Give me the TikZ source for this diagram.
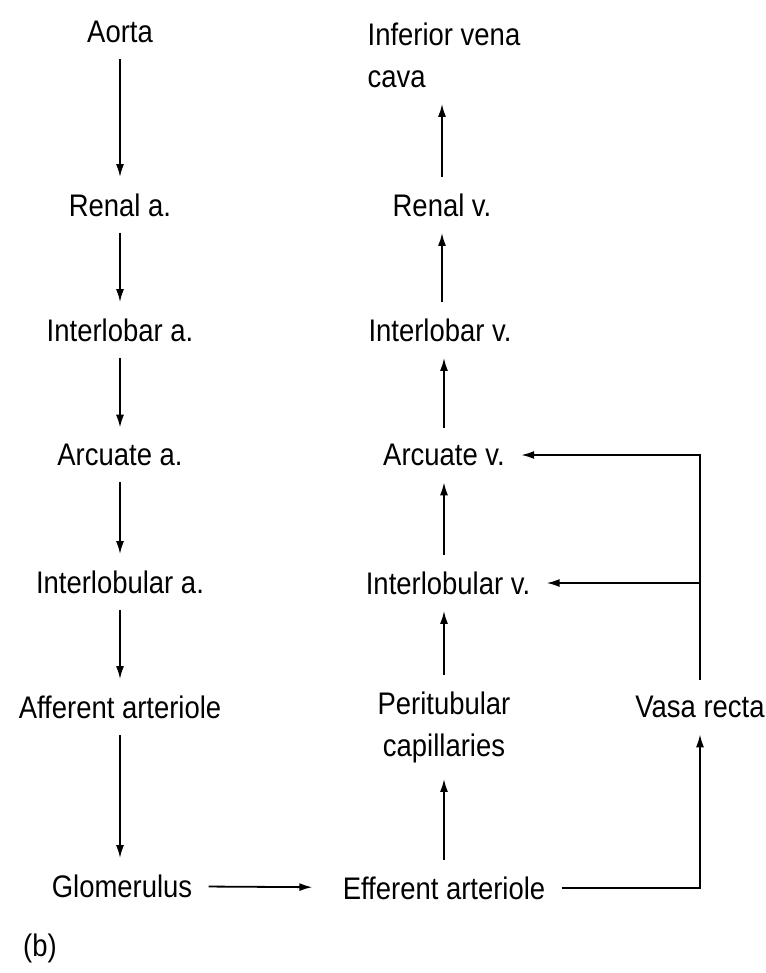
\documentclass[tikz,border=0pt]{standalone}
\usepackage{fontspec}
\setmainfont{Liberation Sans}[FakeStretch=0.88]
\usepackage{tikz}
\usetikzlibrary{arrows.meta, positioning, calc}

\begin{document}
\begin{tikzpicture}[
    x=0.5pt, y=-0.5pt,
    vessel/.style={inner xsep=8pt, inner ysep=8pt, align=center,
                   font=\fontsize{15.6}{21}\selectfont},
    flow/.style={-{Latex[length=6.5pt, width=4pt]}, line width=0.9pt, color=black}
]
\useasboundingbox (0,0) rectangle (765,973);

% Arterial side
\node[vessel] (aorta) at (120, 32) {Aorta};
\node[vessel] (rena) at (120, 205) {Renal a.};
\node[vessel] (ilba) at (120, 330) {Interlobar a.};
\node[vessel] (arca) at (120, 455) {Arcuate a.};
\node[vessel] (ilbua) at (120, 582) {Interlobular a.};
\node[vessel] (aff) at (120, 707) {Afferent arteriole};
\node[vessel] (glom) at (122, 886) {Glomerulus};

% Venous side
\node[vessel, align=left] (ivc) at (444, 55) {Inferior vena\\cava};
\node[vessel] (renv) at (442, 205) {Renal v.};
\node[vessel] (ilbv) at (440, 330) {Interlobar v.};
\node[vessel] (arcv) at (444, 455) {Arcuate v.};
\node[vessel] (ilbuv) at (448, 583) {Interlobular v.};
\node[vessel] (ptc) at (444, 727) {Peritubular\\capillaries};
\node[vessel] (eff) at (444, 888) {Efferent arteriole};
\node[vessel] (vasa) at (700, 707) {Vasa recta};

\node[vessel] (lbl) at (40, 948) {(b)};

% Flow down the arteries
\draw[flow] (aorta) -- (rena);
\draw[flow] (rena) -- (ilba);
\draw[flow] (ilba) -- (arca);
\draw[flow] (arca) -- (ilbua);
\draw[flow] (ilbua) -- (aff);
\draw[flow] (aff) -- (glom.north -| aff);
\draw[flow, shorten >=7pt] (glom) -- (eff);

% Flow up the veins
\draw[flow] (eff.north -| ptc) -- (ptc);
\draw[flow] (ptc) -- (ilbuv.south -| ptc);
\draw[flow] (ilbuv.north -| arcv) -- (arcv);
\draw[flow] (arcv) -- (ilbv.south -| arcv);
\draw[flow] (ilbv.north -| renv) -- (renv);
\draw[flow] (renv) -- (ivc.south -| renv);

% Vasa recta loop
\coordinate (split) at (vasa.north |- ilbuv.east);
\draw[flow] (eff.east) -| (vasa.south);
\draw[flow] (vasa.north) |- (arcv.east);
\draw[flow] (split) -- (ilbuv.east);
\end{tikzpicture}
\end{document}
